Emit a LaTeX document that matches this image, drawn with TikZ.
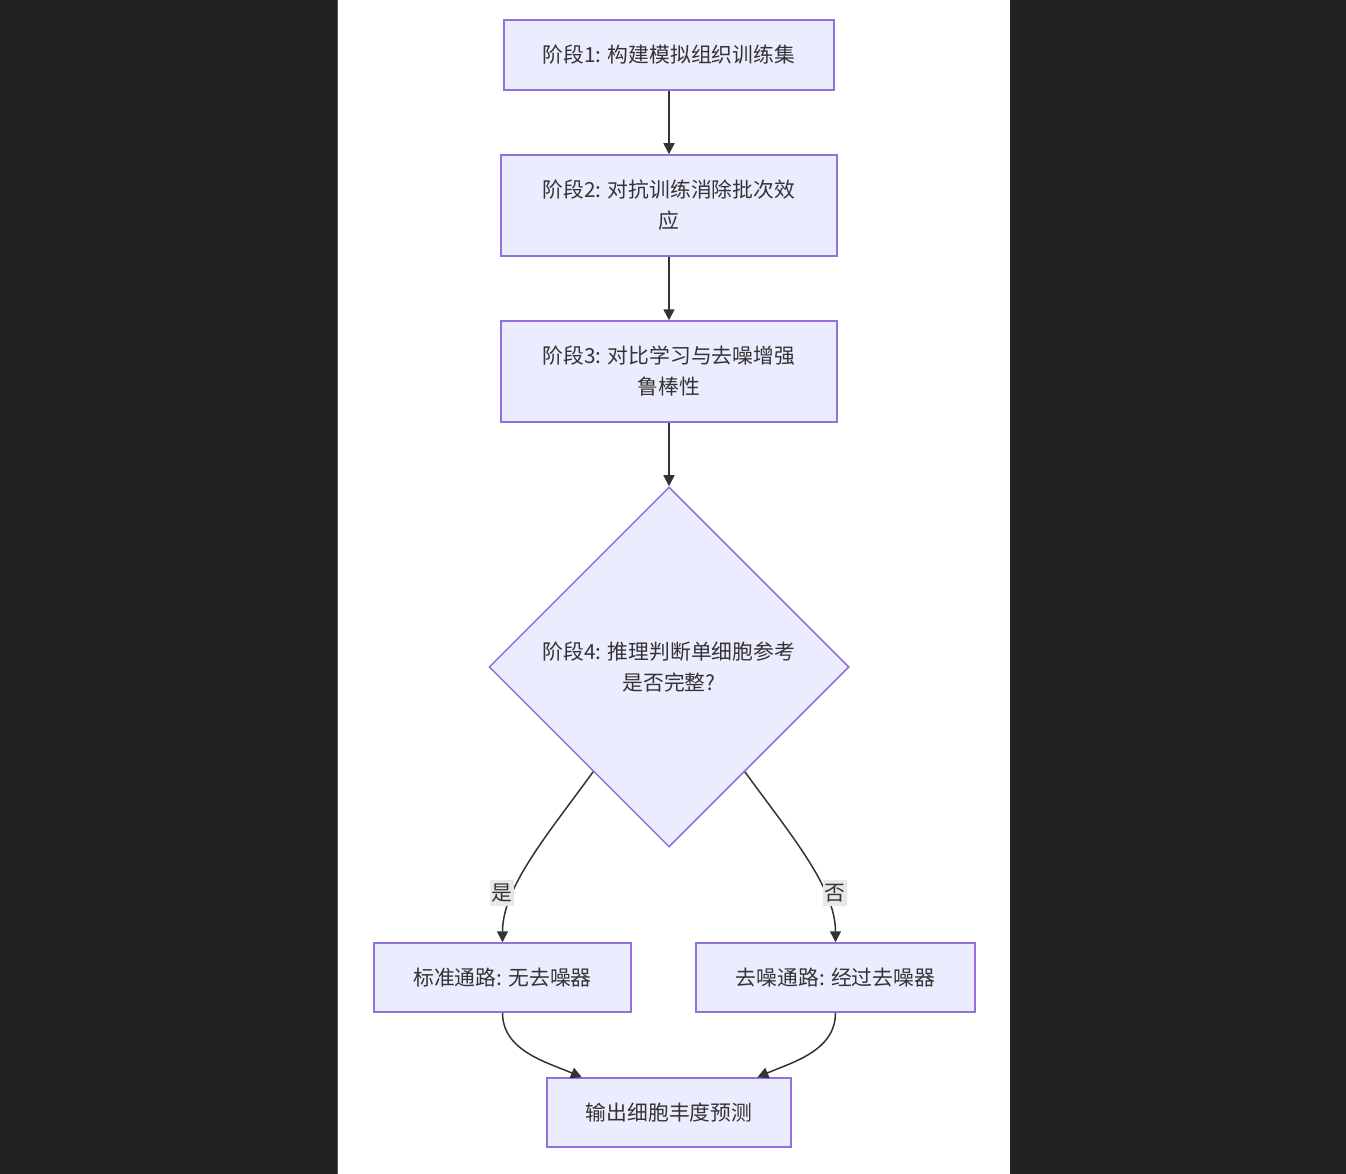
\documentclass[tikz,border=0pt]{standalone}
\usepackage{fontspec}
\setmainfont{Noto Sans CJK SC}
\usetikzlibrary{shapes.geometric,arrows.meta,calc}
\definecolor{bgdark}{HTML}{222222}
\definecolor{boxfill}{HTML}{ECECFF}
\definecolor{boxline}{HTML}{9370DB}
\definecolor{txt}{HTML}{333333}
\definecolor{lblbg}{HTML}{E8E8E8}
\begin{document}
\begin{tikzpicture}[x=1pt,y=-1pt,
  every node/.style={font=\fontsize{20.8pt}{31pt}\selectfont, text=txt},
  stepbox/.style={draw=boxline, fill=boxfill, line width=1.5pt, rectangle, inner sep=0pt, align=center},
  decision/.style={draw=boxline, fill=boxfill, line width=1.5pt, diamond, aspect=1, inner sep=0pt, minimum width=360pt, minimum height=360pt, align=center},
  conn/.style={draw=txt, line width=1.5pt, -{Triangle[length=11pt,width=11pt]}},
  lbl/.style={fill=lblbg, inner xsep=1.5pt, inner ysep=4pt}
]
\useasboundingbox (0,0) rectangle (1346,1174);
\fill[bgdark] (0,0) rectangle (1346,1174);
\fill[white] (338,0) rectangle (1010,1174);
\draw[gray!70!black, line width=1pt] (337.5,0) -- (337.5,1174);

\node[stepbox, minimum width=330pt, minimum height=70pt] (s1) at (669,55) {阶段1: 构建模拟组织训练集};
\node[stepbox, minimum width=336pt, minimum height=101pt] (s2) at (669,205.5) {阶段2: 对抗训练消除批次效\\应};
\node[stepbox, minimum width=336pt, minimum height=101pt] (s3) at (669,371.5) {阶段3: 对比学习与去噪增强\\鲁棒性};
\node[decision] (d) at (669,667) {阶段4: 推理判断单细胞参考\\是否完整?};
\node[stepbox, minimum width=257pt, minimum height=69pt] (l) at (502.5,977.5) {标准通路: 无去噪器};
\node[stepbox, minimum width=279pt, minimum height=69pt] (r) at (835.5,977.5) {去噪通路: 经过去噪器};
\node[stepbox, minimum width=244pt, minimum height=69pt] (o) at (669,1112.5) {输出细胞丰度预测};

\draw[conn] (s1) -- (s2);
\draw[conn] (s2) -- (s3);
\draw[conn] (s3) -- (d);

\coordinate (dl) at ($(d.west)!0.58!(d.south)$);
\coordinate (dr) at ($(d.east)!0.58!(d.south)$);
\coordinate (ol) at ($(o.north west)!0.145!(o.north east)$);
\coordinate (or) at ($(o.north west)!0.86!(o.north east)$);

\draw[conn] (dl) .. controls +(-45,62) and +(0,-55) .. (l.north);
\draw[conn] (dr) .. controls +(45,62) and +(0,-55) .. (r.north);
\node[lbl] (ly) at (502,893) {是};
\node[lbl] (ln) at (835,893) {否};

\draw[conn] (l.south) .. controls +(0,38) and +(-35,-15) .. (ol);
\draw[conn] (r.south) .. controls +(0,38) and +(35,-15) .. (or);
\end{tikzpicture}
\end{document}
